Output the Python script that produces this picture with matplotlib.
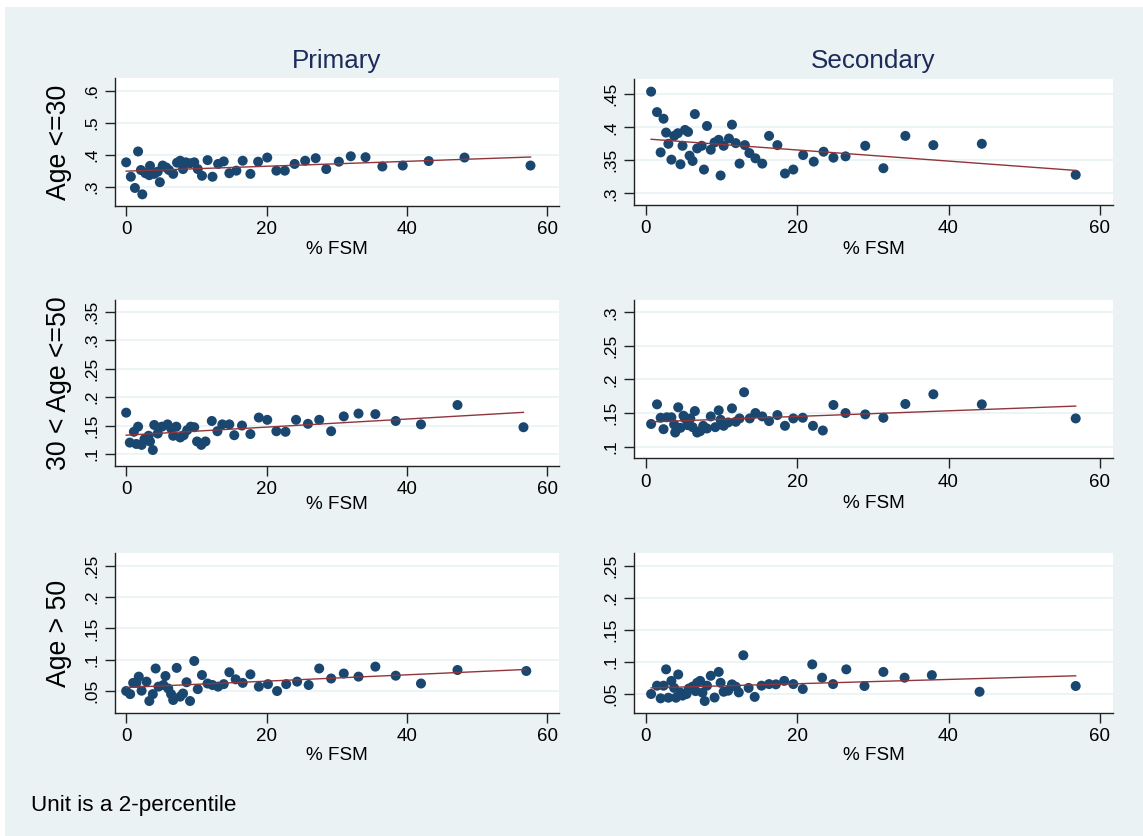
import numpy as np
import matplotlib
matplotlib.use('Agg')
import matplotlib.pyplot as plt
from matplotlib.patches import Rectangle

plt.rcParams['font.family'] = ['Liberation Sans', 'DejaVu Sans']

# ---------------- data ----------------
col_titles = ["Primary", "Secondary"]
row_titles = ["Age <=30", "30 < Age <=50", "Age > 50"]
x_label = "% FSM"
note = "Unit is a 2-percentile"
x_ticks = [0, 20, 40, 60]

p1_x = [0, 0.67, 1.7, 1.25, 2.3, 2.1, 2.75, 3.4, 3.3, 4.0, 4.5, 4.8, 5.2, 5.7, 6.1, 6.7,
        7.25, 7.7, 8.1, 8.5, 9.1, 9.7, 10.2, 10.8, 11.6, 12.3, 13.1, 13.9, 14.7, 15.7,
        16.6, 17.7, 18.8, 20.1, 21.4, 22.6, 24.0, 25.5, 27.0, 28.5, 30.3, 32.0, 34.1,
        36.5, 39.4, 43.1, 48.2, 57.6]
p1_y = [.377, .332, .411, .297, .277, .353, .343, .366, .337, .341, .348, .315, .367, .361,
        .353, .341, .376, .382, .356, .377, .374, .377, .356, .335, .384, .332, .372, .380,
        .343, .351, .382, .341, .379, .392, .351, .351, .372, .382, .390, .356, .379, .396,
        .393, .364, .367, .381, .392, .367]

p2_x = [0.72, 1.5, 2.36, 1.98, 2.7, 3.0, 3.4, 3.76, 4.25, 4.6, 4.87, 5.2, 5.6, 5.8, 6.2,
        6.5, 6.8, 7.4, 7.7, 8.1, 8.6, 9.1, 9.65, 9.9, 10.3, 11.0, 11.4, 11.9, 12.4, 13.1,
        13.7, 14.5, 15.4, 16.3, 17.4, 18.4, 19.5, 20.8, 22.2, 23.5, 24.8, 26.4, 29.0,
        31.4, 34.3, 38.0, 44.4, 56.8]
p2_y = [.454, .423, .413, .362, .392, .375, .351, .387, .391, .344, .372, .396, .393, .357,
        .349, .420, .368, .372, .336, .402, .366, .377, .381, .327, .372, .383, .404, .376,
        .345, .373, .361, .353, .345, .387, .373, .330, .336, .358, .348, .363, .354, .356,
        .372, .338, .387, .373, .375, .328]

p3_x = [0, 0.52, 1.1, 1.7, 1.45, 2.2, 2.6, 3.2, 3.4, 3.8, 4.0, 4.5, 5.1, 5.9, 6.4, 6.7,
        7.15, 7.7, 8.2, 8.7, 9.2, 9.7, 10.1, 10.7, 11.3, 12.2, 13.0, 13.7, 14.7, 15.4,
        16.5, 17.7, 18.9, 20.1, 21.4, 22.7, 24.2, 25.9, 27.5, 29.2, 31.0, 33.1, 35.5,
        38.4, 42.0, 47.2, 56.6]
p3_y = [.1726, .120, .139, .148, .1176, .116, .126, .132, .122, .107, .151, .136, .148,
        .152, .145, .132, .148, .129, .133, .142, .148, .147, .122, .116, .122, .158, .140,
        .152, .152, .133, .150, .135, .164, .160, .140, .139, .160, .153, .160, .140, .166,
        .171, .170, .158, .152, .186, .147]

p4_x = [0.72, 1.5, 1.98, 2.36, 2.8, 3.4, 3.76, 3.9, 4.3, 4.6, 5.0, 5.2, 5.55, 5.9, 6.2,
        6.5, 6.8, 7.2, 7.6, 8.1, 8.6, 9.2, 9.65, 9.9, 10.3, 10.9, 11.4, 11.9, 12.4, 13.0,
        13.75, 14.5, 15.4, 16.3, 17.4, 18.4, 19.5, 20.75, 22.1, 23.4, 24.8, 26.4, 29.0,
        31.4, 34.3, 38.0, 44.4, 56.8]
p4_y = [.1337, .163, .143, .126, .1437, .1437, .133, .121, .1586, .128, .146, .142, .132,
        .142, .129, .153, .121, .123, .131, .127, .145, .129, .154, .140, .131, .136, .157,
        .137, .142, .181, .142, .150, .145, .138, .147, .131, .142, .143, .131, .124, .162,
        .150, .148, .143, .1635, .178, .163, .142]

p5_x = [0, 0.57, 1.0, 1.8, 1.45, 2.2, 2.9, 3.3, 3.8, 4.2, 4.6, 5.3, 5.6, 6.0, 6.4, 6.7,
        7.2, 7.7, 8.1, 8.6, 9.1, 9.7, 10.2, 10.8, 11.6, 12.3, 13.1, 13.9, 14.7, 15.6,
        16.6, 17.7, 18.9, 20.2, 21.5, 22.8, 24.35, 26.0, 27.5, 29.2, 31.0, 33.1, 35.5,
        38.4, 42.0, 47.2, 57.0]
p5_y = [.050, .045, .063, .073, .063, .0505, .065, .034, .045, .086, .057, .0596, .074,
        .054, .045, .0356, .087, .041, .046, .064, .034, .098, .053, .0756, .062, .0596,
        .057, .061, .080, .0687, .063, .0767, .057, .061, .050, .061, .065, .0596, .086,
        .070, .078, .073, .089, .0745, .062, .0836, .082]

p6_x = [0.72, 1.5, 1.98, 2.36, 2.7, 3.0, 3.4, 3.76, 4.0, 4.3, 4.6, 4.87, 5.4, 5.7, 6.2,
        6.6, 6.8, 7.2, 7.5, 7.8, 8.1, 8.6, 9.1, 9.65, 9.9, 10.3, 10.9, 11.4, 11.9, 12.3,
        12.9, 13.6, 14.4, 15.3, 16.3, 17.2, 18.3, 19.5, 20.75, 22.0, 23.3, 24.75, 26.5,
        28.9, 31.4, 34.2, 37.8, 44.1, 56.8]
p6_y = [.0495, .0625, .0427, .0625, .088, .0437, .070, .059, .0437, .080, .0516, .047,
        .0495, .058, .061, .054, .067, .070, .0516, .0385, .0625, .078, .044, .084, .067,
        .053, .0547, .0646, .061, .052, .110, .059, .045, .0625, .065, .0646, .070, .065,
        .0573, .0958, .075, .065, .088, .062, .084, .075, .079, .053, .062]

p1_yticks = [.3, .4, .5, .6]
p1_ylabels = [".3", ".4", ".5", ".6"]
p2_yticks = [.3, .35, .4, .45]
p2_ylabels = [".3", ".35", ".4", ".45"]
p3_yticks = [.1, .15, .2, .25, .3, .35]
p3_ylabels = [".1", ".15", ".2", ".25", ".3", ".35"]
p4_yticks = [.1, .15, .2, .25, .3]
p4_ylabels = [".1", ".15", ".2", ".25", ".3"]
p5_yticks = [.05, .1, .15, .2, .25]
p5_ylabels = [".05", ".1", ".15", ".2", ".25"]
p6_yticks = [.05, .1, .15, .2, .25]
p6_ylabels = [".05", ".1", ".15", ".2", ".25"]

# ---------------- layout / style ----------------
W, H = 1143, 836
BG = '#EAF2F3'
NAVY = '#1A476F'
MAROON = '#90353B'
TITLE_C = '#1C2B5A'

fig = plt.figure(figsize=(W / 100, H / 100), dpi=100)
fig.patch.set_facecolor('white')
fig.add_artist(Rectangle((5 / W, 0), 1 - 5 / W, 1 - 7 / H, transform=fig.transFigure,
                         facecolor=BG, edgecolor='none', zorder=-10))

# pixel boxes: left, right, top, bottom, x-title baseline ; y-limits ; x-limits
panels = [
    (p1_x, p1_y, p1_yticks, p1_ylabels, (114.5, 559, 78.3, 206, 253.5), (0.2406, 0.6396), (-1.66, 61.66)),
    (p2_x, p2_y, p2_yticks, p2_ylabels, (634, 1112.8, 79.3, 205, 253.5), (0.2823, 0.4727), (-1.54, 61.7)),
    (p3_x, p3_y, p3_yticks, p3_ylabels, (114.5, 559, 300, 466, 509), (0.0789, 0.3705), (-1.66, 61.66)),
    (p4_x, p4_y, p4_yticks, p4_ylabels, (634, 1112.8, 300, 458.3, 508), (0.0826, 0.3184), (-1.54, 61.7)),
    (p5_x, p5_y, p5_yticks, p5_ylabels, (114.5, 559, 553.3, 712.7, 760.2), (0.0153, 0.2703), (-1.66, 61.66)),
    (p6_x, p6_y, p6_yticks, p6_ylabels, (634, 1112.8, 553.3, 712.7, 760.2), (0.0203, 0.2693), (-1.54, 61.7)),
]

for i, (xs, ys, yt, yl, (l, r, t, b, xt), ylim, xlim) in enumerate(panels):
    ax = fig.add_axes([l / W, 1 - b / H, (r - l) / W, (b - t) / H])
    ax.set_facecolor('white')
    xs = np.asarray(xs); ys = np.asarray(ys)
    ax.scatter(xs, ys, s=52, color=NAVY, edgecolors='none', zorder=3)
    k, c = np.polyfit(xs, ys, 1)
    xx = np.array([xs.min(), xs.max()])
    ax.plot(xx, k * xx + c, color=MAROON, lw=1.0, zorder=4)
    ax.set_xlim(*xlim)
    ax.set_ylim(*ylim)
    ax.set_xticks(x_ticks)
    ax.set_xticklabels([str(v) for v in x_ticks], fontsize=13.5)
    ax.set_yticks(yt)
    ax.set_yticklabels(yl, fontsize=12.5, rotation=90, va='center')
    for s in ['top', 'right']:
        ax.spines[s].set_visible(False)
    for s in ['left', 'bottom']:
        ax.spines[s].set_color('#222222')
        ax.spines[s].set_linewidth(1.0)
    ax.tick_params(axis='both', direction='out', length=7, width=1, color='#222222')
    ax.tick_params(axis='x', pad=4)
    ax.tick_params(axis='y', pad=4)
    ax.yaxis.grid(True, color=BG, lw=1.2)
    ax.set_axisbelow(True)
    # x title
    fig.text((l + r) / 2 / W, 1 - xt / H, x_label, fontsize=13.6,
             ha='center', va='baseline')
    # column titles
    if i < 2:
        fig.text((l + r) / 2 / W, 1 - 68 / H, col_titles[i], fontsize=18.7,
                 color=TITLE_C, ha='center', va='baseline')
    # row titles
    if i % 2 == 0:
        fig.text(58.5 / W, 1 - (t + b) / 2 / H, row_titles[i // 2], fontsize=19.2,
                 rotation=90, ha='center', va='center')

fig.text(30.7 / W, 1 - 810.7 / H, note, fontsize=16.2, ha='left', va='baseline')

fig.savefig('out.png', dpi=100, facecolor=fig.get_facecolor())
